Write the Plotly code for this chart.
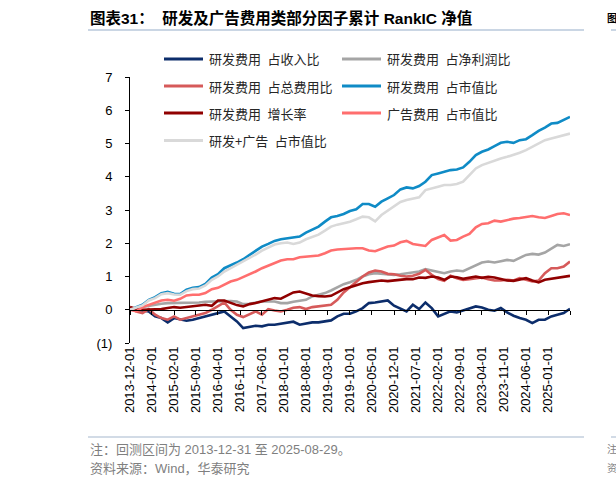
import pandas as pd
import plotly.graph_objects as go

# ---- data (cumulative RankIC, read every 2 months) ----
dates = pd.date_range("2013-12-01", "2025-08-01", freq="2MS")

rd_rev = [0, 0.0, -0.02, -0.05, -0.2, -0.25, -0.38, -0.25, -0.3, -0.33,
          -0.3, -0.25, -0.22, -0.15, -0.12, -0.05, -0.2, -0.35, -0.55, -0.52,
          -0.48, -0.5, -0.45, -0.45, -0.42, -0.4, -0.36, -0.45, -0.42, -0.38,
          -0.38, -0.35, -0.32, -0.2, -0.12, -0.12, -0.05, 0.05, 0.2, 0.22,
          0.24, 0.28, 0.12, 0.03, -0.05, 0.15, 0.02, 0.22, 0.05, -0.2,
          -0.12, -0.05, -0.08, -0.02, 0.05, 0.1, 0.07, 0.0, -0.03, 0.05,
          -0.08, -0.18, -0.25, -0.3, -0.4, -0.3, -0.3, -0.2, -0.15, -0.1,
          0.03]
rd_np = [0, 0.02, 0.08, 0.12, 0.16, 0.18, 0.2, 0.2, 0.2, 0.21,
         0.22, 0.22, 0.24, 0.25, 0.26, 0.27, 0.26, 0.25, 0.17, 0.18,
         0.22, 0.25, 0.25, 0.25, 0.2, 0.2, 0.24, 0.27, 0.3, 0.4,
         0.45, 0.5, 0.58, 0.68, 0.77, 0.83, 0.9, 1.0, 1.07, 1.1,
         1.08, 1.07, 1.05, 1.07, 1.1, 1.12, 1.15, 1.22, 1.18, 1.12,
         1.1, 1.15, 1.18, 1.16, 1.25, 1.35, 1.42, 1.45, 1.42, 1.46,
         1.5, 1.47, 1.55, 1.65, 1.68, 1.66, 1.72, 1.85, 1.95, 1.92,
         1.97]
rd_totexp = [0.05, -0.05, -0.1, 0.02, -0.15, -0.25, -0.3, -0.2, -0.3, -0.25,
             -0.22, -0.15, -0.1, 0.0, 0.12, 0.22, 0.0, -0.15, -0.22, -0.12,
             -0.05, -0.15, 0.02, -0.02, -0.05, 0.0, 0.06, 0.08, 0.02, 0.08,
             0.1, 0.12, 0.15, 0.3, 0.52, 0.68, 0.85, 1.0, 1.12, 1.18,
             1.15, 1.08, 1.07, 1.02, 1.0, 1.02, 1.08, 1.2, 1.05, 0.92,
             0.87, 1.02, 0.95, 0.9, 0.92, 0.95, 0.97, 0.92, 0.88, 0.88,
             0.9, 0.88, 0.95, 0.9, 0.85, 0.88, 1.1, 1.25, 1.25, 1.3,
             1.45]
rd_mv = [0, 0.08, 0.15, 0.3, 0.38, 0.5, 0.54, 0.48, 0.47, 0.6,
         0.66, 0.68, 0.78, 0.97, 1.07, 1.25, 1.33, 1.42, 1.52, 1.65,
         1.77, 1.9, 1.98, 2.07, 2.12, 2.15, 2.16, 2.2, 2.32, 2.42,
         2.5, 2.65, 2.78, 2.82, 2.88, 2.97, 3.02, 3.18, 3.18, 3.1,
         3.25, 3.35, 3.45, 3.62, 3.68, 3.65, 3.72, 3.85, 4.05, 4.1,
         4.15, 4.2, 4.22, 4.28, 4.45, 4.65, 4.75, 4.82, 4.92, 5.02,
         5.05, 5.02, 5.1, 5.13, 5.25, 5.38, 5.48, 5.6, 5.62, 5.72,
         5.8]
rd_growth = [0.08, 0.02, 0.0, 0.0, 0.0, 0.02, 0.05, 0.08, 0.06, 0.08,
             0.1, 0.13, 0.15, 0.12, 0.28, 0.28, 0.2, 0.14, 0.1, 0.17,
             0.2, 0.25, 0.3, 0.35, 0.33, 0.42, 0.52, 0.55, 0.5, 0.43,
             0.41, 0.4, 0.42, 0.52, 0.62, 0.68, 0.75, 0.8, 0.83, 0.86,
             0.88, 0.86, 0.88, 0.92, 0.92, 0.92, 0.97, 0.96, 1.0, 0.97,
             0.9, 1.0, 0.98, 0.93, 0.96, 1.0, 0.96, 0.99, 0.97, 0.92,
             0.88, 0.87, 0.9, 0.95, 0.88, 0.82, 0.9, 0.93, 0.94, 0.97,
             1.02]
ad_mv = [0, -0.05, 0.08, 0.15, 0.22, 0.28, 0.3, 0.27, 0.33, 0.43,
         0.45, 0.45, 0.5, 0.62, 0.66, 0.76, 0.85, 0.9, 0.98, 1.07,
         1.15, 1.25, 1.33, 1.4, 1.48, 1.52, 1.52, 1.58, 1.6, 1.62,
         1.63, 1.7, 1.78, 1.81, 1.83, 1.83, 1.85, 1.85, 1.78, 1.76,
         1.83, 1.9, 1.93, 2.03, 2.07, 1.98, 1.95, 1.92, 2.1, 2.17,
         2.25, 2.08, 2.1, 2.2, 2.28, 2.48, 2.58, 2.6, 2.68, 2.65,
         2.7, 2.74, 2.76, 2.8, 2.82, 2.78, 2.76, 2.82, 2.88, 2.9,
         2.85]
rdad_mv = [0, 0.06, 0.13, 0.28, 0.35, 0.47, 0.5, 0.46, 0.45, 0.56,
           0.62, 0.64, 0.73, 0.9, 1.0, 1.15, 1.25, 1.35, 1.45, 1.57,
           1.66, 1.78, 1.88, 1.96, 2.0, 2.02, 1.98, 2.02, 2.12, 2.2,
           2.26, 2.38, 2.5, 2.56, 2.6, 2.65, 2.72, 2.8, 2.78, 2.66,
           2.85, 2.98, 3.1, 3.24, 3.3, 3.35, 3.38, 3.6, 3.66, 3.7,
           3.75, 3.75, 3.78, 3.85, 4.05, 4.25, 4.35, 4.42, 4.5, 4.55,
           4.6, 4.65, 4.72, 4.8, 4.9, 5.02, 5.1, 5.15, 5.2, 5.25,
           5.3]

series_names = ["研发费用 占收入比", "研发费用 占净利润比", "研发费用 占总费用比",
                "研发费用 占市值比", "研发费用 增长率", "广告费用 占市值比",
                "研发+广告 占市值比"]
series_values = [rd_rev, rd_np, rd_totexp, rd_mv, rd_growth, ad_mv, rdad_mv]
colors = ["#0C2D6B", "#A5A5A5", "#D65A5A", "#0F8BC6", "#900000", "#FF6E6E", "#D9D9D9"]

tick_dates = pd.date_range("2013-12-01", "2025-08-01", freq="7MS")
label_dates = tick_dates[:-1]
x_labels = [d.strftime("%Y-%m-%d") for d in label_dates]
y_ticks = list(range(-1, 8))
y_labels = ["(1)"] + [str(v) for v in range(0, 8)]

# ---- layout helpers (pixel -> paper) ----
L, R, T, B = 130, 570, 77, 343
W, H = 616, 486
def px(p):
    return (p - L) / (R - L)
def py(p):
    return (B - p) / (B - T)

fig = go.Figure()
for name, vals, col in zip(series_names, series_values, colors):
    fig.add_trace(go.Scatter(x=dates, y=vals, mode="lines", name=name,
                             line=dict(color=col, width=2.6), showlegend=False))
# helper trace so the zero-line axis is drawn
fig.add_trace(go.Scatter(x=[dates[0]], y=[None], xaxis="x2", showlegend=False,
                         hoverinfo="skip"))

num_font = dict(family="Liberation Sans, Arial", size=13, color="#000000")
x_range = [tick_dates[0], tick_dates[-1]]

fig.update_layout(
    width=W, height=H,
    margin=dict(l=L, r=W - R, t=T, b=H - B, pad=0),
    paper_bgcolor="white", plot_bgcolor="white",
    xaxis=dict(type="date", range=x_range, tickvals=list(label_dates), ticktext=x_labels,
               tickangle=-90, ticks="", showline=False, showgrid=False, zeroline=False,
               tickfont=num_font),
    xaxis2=dict(type="date", range=x_range, overlaying="x", anchor="free",
                position=1 / 8,
                tickvals=list(tick_dates), showticklabels=False, ticks="outside",
                ticklen=4, tickcolor="#000000", tickwidth=1, showline=True,
                linecolor="#000000", linewidth=1, showgrid=False, zeroline=False),
    yaxis=dict(range=[-1, 7], tickvals=y_ticks, ticktext=y_labels, ticks="outside",
               ticklen=4, tickcolor="#000000", showline=True, linecolor="#000000",
               linewidth=1, showgrid=False, zeroline=False, tickfont=num_font,
               ticklabelstandoff=10),
)

cjk = "Liberation Sans, Noto Sans CJK SC"
ann = []
shapes = []

# title
ann.append(dict(x=px(88), y=py(18), xref="paper", yref="paper", xanchor="left",
                yanchor="middle", showarrow=False,
                text="<b>图表31：  研发及广告费用类部分因子累计 RankIC 净值</b>",
                font=dict(family=cjk, size=15.5, color="#000000")))
shapes.append(dict(type="line", xref="paper", yref="paper", x0=px(88), x1=px(584),
                   y0=py(30), y1=py(30), line=dict(color="#B9C8DB", width=1.5)))
# neighbouring chart fragments at right edge
ann.append(dict(x=px(605), y=py(18), xref="paper", yref="paper", xanchor="left",
                yanchor="middle", showarrow=False, text="<b>图</b>",
                font=dict(family=cjk, size=10, color="#000000")))
shapes.append(dict(type="line", xref="paper", yref="paper", x0=px(611), x1=px(620),
                   y0=py(30), y1=py(30), line=dict(color="#B9C8DB", width=1.5)))

# manual legend (2 columns x 4 rows)
rows_y = [59, 86, 113, 140.5]
cols = [(164, 203, 207), (342, 381, 385)]
for i, (name, col) in enumerate(zip(series_names, colors)):
    r, c = divmod(i, 2)
    x0, x1, xt = cols[c]
    yy = py(rows_y[r])
    shapes.append(dict(type="line", xref="paper", yref="paper", x0=px(x0), x1=px(x1),
                       y0=yy, y1=yy, line=dict(color=col, width=3)))
    ann.append(dict(x=px(xt), y=yy, xref="paper", yref="paper", xanchor="left",
                    yanchor="middle", showarrow=False, text=name.replace(" ", "\u2002"),
                    font=dict(family="Noto Sans CJK SC", size=13, color="#262626")))

# footer
shapes.append(dict(type="line", xref="paper", yref="paper", x0=px(88), x1=px(584),
                   y0=py(437), y1=py(437), line=dict(color="#C3CFDE", width=1.5)))
shapes.append(dict(type="line", xref="paper", yref="paper", x0=px(611), x1=px(620),
                   y0=py(437), y1=py(437), line=dict(color="#C3CFDE", width=1.5)))
for txt, yv in [("注：回测区间为 2013-12-31 至 2025-08-29。", 449),
                ("资料来源：Wind，华泰研究", 468)]:
    ann.append(dict(x=px(88), y=py(yv), xref="paper", yref="paper", xanchor="left",
                    yanchor="middle", showarrow=False, text=txt,
                    font=dict(family=cjk, size=13, color="#7F7F7F")))
for txt, yv in [("注", 449), ("资", 468)]:
    ann.append(dict(x=px(605), y=py(yv), xref="paper", yref="paper", xanchor="left",
                    yanchor="middle", showarrow=False, text=txt,
                    font=dict(family=cjk, size=10, color="#7F7F7F")))

fig.update_layout(annotations=ann, shapes=shapes)
fig.write_html("out.html", config={"displayModeBar": False},
               post_script="document.body.style.margin='0';")
